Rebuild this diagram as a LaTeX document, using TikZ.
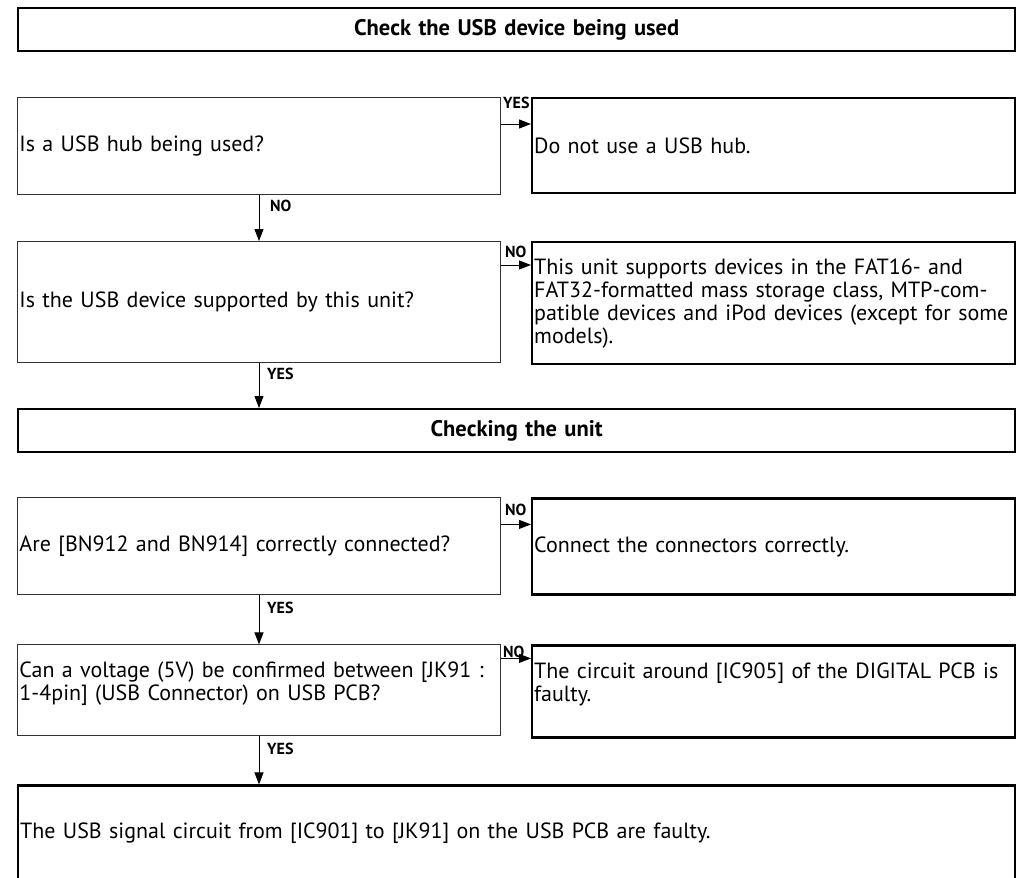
\documentclass[tikz,border=0pt]{standalone}
\usepackage{fontspec}
\setmainfont{PT Sans}
\usepackage{tikz}
\usetikzlibrary{arrows.meta, positioning}
\newcommand{\bodyfont}{\fontsize{22}{23}\selectfont}
\newcommand{\headfont}{\fontsize{22.5}{23}\selectfont\bfseries}
\newcommand{\tagfont}{\fontsize{16}{17}\selectfont\bfseries}

\begin{document}
\begin{tikzpicture}[x=1pt, y=-1pt,
  box/.style={rectangle, anchor=north west, inner xsep=2pt, inner ysep=2pt, align=left, font=\bodyfont},
  question/.style={box, draw=black!80, line width=1pt, text width=479pt},
  result/.style={box, draw=black, line width=2.4pt, text width=479pt},
  header/.style={box, draw=black, line width=2.4pt, align=center, text width=993pt, minimum height=43pt, font=\headfont},
  tag/.style={anchor=north west, inner sep=0pt, font=\tagfont},
  flow/.style={-{Triangle[length=12pt, width=9pt]}, line width=1pt}]
\useasboundingbox (0,0) rectangle (1029,878);

% first part
\node[header] (h1) at (17,7) {Check the USB device being used};
\node[question, minimum height=97pt] (q1) at (17,97) {Is a USB hub being used?};
\node[result, minimum height=95pt, right=30pt of q1.north east, anchor=north west] (r1) {Do not use a USB hub.};
\node[question, minimum height=121pt, below=46pt of q1.south west, anchor=north west] (q2) {Is the USB device supported by this unit?};
\node[result, minimum height=122pt, right=30pt of q2.north east, anchor=north west] (r2)
  {This unit supports devices in the FAT16- and\\FAT32-formatted mass storage class, MTP-com-\\patible devices and iPod devices (except for some\\models).};

% second part
\node[header, below=45pt of q2.south west, anchor=north west] (h2) {Checking the unit};
\node[question, minimum height=97pt, below=44pt of h2.south west, anchor=north west] (q3) {Are [BN912 and BN914] correctly connected?};
\node[result, minimum height=96pt, right=30pt of q3.north east, anchor=north west] (r3) {Connect the connectors correctly.};
\node[question, minimum height=91pt, text depth=42pt, below=49pt of q3.south west, anchor=north west] (q4)
  {Can a voltage (5V) be confirmed between [JK91 :\\1-4pin] (USB Connector) on USB PCB?};
\node[result, minimum height=92pt, text depth=42pt, right=30pt of q4.north east, anchor=north west] (r4)
  {The circuit around [IC905] of the DIGITAL PCB is\\faulty.};
\node[result, text width=993pt, minimum height=96pt, below=48pt of q4.south west, anchor=north west] (f1)
  {The USB signal circuit from [IC901] to [JK91] on the USB PCB are faulty.};

% yes/no branches to the right
\draw[flow] ([yshift=-27pt]q1.north east) -- ([yshift=-27pt]q1.north east -| r1.west);
\draw[flow] ([yshift=-24pt]q2.north east) -- ([yshift=-24pt]q2.north east -| r2.west);
\draw[flow] ([yshift=-27pt]q3.north east) -- ([yshift=-27pt]q3.north east -| r3.west);
\draw[flow] ([yshift=-14pt]q4.north east) -- ([yshift=-14pt]q4.north east -| r4.west);
\node[tag] (t1) at ([xshift=2pt, yshift=0pt]q1.north east) {YES};
\node[tag] (t2) at ([xshift=4pt, yshift=-5pt]q2.north east) {NO};
\node[tag] (t3) at ([xshift=4pt, yshift=-6pt]q3.north east) {NO};
\node[tag] (t4) at ([xshift=2pt, yshift=-1pt]q4.north east) {NO};

% going down
\draw[flow] ([xshift=242pt]q1.south west) -- ([xshift=242pt]q2.north west);
\draw[flow] ([xshift=242pt]q2.south west) -- ([xshift=242pt]h2.north west);
\draw[flow] ([xshift=242pt]q3.south west) -- ([xshift=242pt]q4.north west);
\draw[flow] ([xshift=242pt]q4.south west) -- ([xshift=242pt]f1.north west);
\node[tag] (t5) at ([xshift=253pt, yshift=-5pt]q1.south west) {NO};
\node[tag] (t6) at ([xshift=250pt, yshift=-5pt]q2.south west) {YES};
\node[tag] (t7) at ([xshift=250pt, yshift=-6pt]q3.south west) {YES};
\node[tag] (t8) at ([xshift=250pt, yshift=-6pt]q4.south west) {YES};
\end{tikzpicture}
\end{document}
